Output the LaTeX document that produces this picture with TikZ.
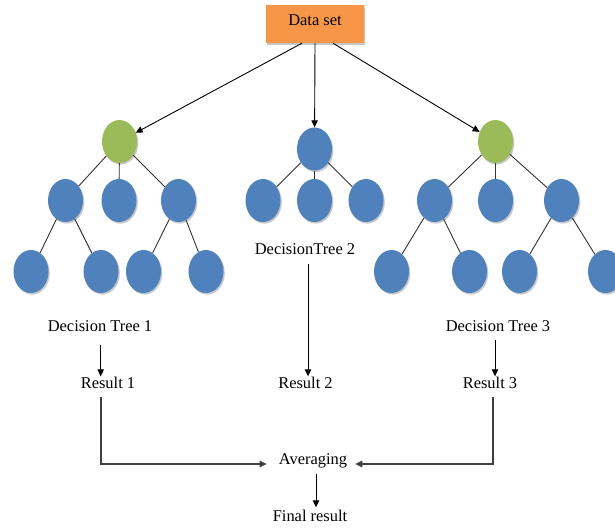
\documentclass[tikz,border=0pt]{standalone}
\usepackage{fontspec}
\setmainfont{Liberation Serif}
\usetikzlibrary{shapes.geometric,arrows.meta,shadows}
\definecolor{dsorange}{HTML}{F79646}
\definecolor{rootgreen}{HTML}{9BBB59}
\definecolor{nodeblue}{HTML}{4F81BD}
\begin{document}
\begin{tikzpicture}[x=1bp,y=-1bp,
  softshadow/.style={drop shadow={shadow xshift=1.3bp,shadow yshift=-1.6bp,fill=black,opacity=0.22}},
  tnode/.style={ellipse,minimum width=35bp,minimum height=43bp,inner sep=0pt,fill=nodeblue,softshadow},
  groot/.style={tnode,fill=rootgreen},
  databox/.style={rectangle,fill=dsorange,minimum width=98bp,minimum height=38bp,inner sep=0pt,
    text height=11bp,text depth=8bp,softshadow,font=\fontsize{16.5}{19}\selectfont},
  lbl/.style={inner sep=0pt,text height=12bp,text depth=4bp,font=\fontsize{16.5}{19}\selectfont},
  tedge/.style={draw=black!80,line width=0.9bp},
  arr/.style={draw=black,line width=0.9bp,-{Triangle[length=7bp,width=6.5bp]}},
  joinarr/.style={draw=black!75,line width=1.4bp,-{Triangle[length=7bp,width=6.5bp]}}]
\useasboundingbox (0,0) rectangle (615,529);

% data set box
\node[databox] (ds) at (315,24) {Data set};

% tree 1
\node[groot] (r1) at (119.5,141.5) {};
\node[tnode] (a1) at (65.5,200.5) {};
\node[tnode] (a2) at (119,200.5) {};
\node[tnode] (a3) at (178.5,200.5) {};
\node[tnode] (b1) at (31,271.5) {};
\node[tnode] (b2) at (101,271.5) {};
\node[tnode] (b3) at (143.5,271.5) {};
\node[tnode] (b4) at (206,271.5) {};

% tree 2
\node[tnode] (r2) at (314.5,149) {};
\node[tnode] (c1) at (263,200.5) {};
\node[tnode] (c2) at (314.5,200.5) {};
\node[tnode] (c3) at (366,200.5) {};

% tree 3
\node[groot] (r3) at (495.5,141.5) {};
\node[tnode] (d1) at (434.5,200.5) {};
\node[tnode] (d2) at (495.5,200.5) {};
\node[tnode] (d3) at (561.5,200.5) {};
\node[tnode] (e1) at (391.5,271.5) {};
\node[tnode] (e2) at (469.5,271.5) {};
\node[tnode] (e3) at (519.5,271.5) {};
\node[tnode] (e4) at (605.5,271.5) {};

% tree edges
\foreach \p/\c in {r1/a1,r1/a2,r1/a3,a1/b1,a1/b2,a3/b3,a3/b4,
                   r2/c1,r2/c2,r2/c3,
                   r3/d1,r3/d2,r3/d3,d1/e1,d1/e2,d3/e3,d3/e4}
  \draw[tedge] (\p) -- (\c);

% data set to trees
\draw[arr] ([xshift=-13bp]ds.south) -- (r1);
\draw[arr] (ds.south) -- (r2);
\draw[arr] ([xshift=18bp]ds.south) -- (r3);

% labels
\node[lbl] (dt1) at (100,327.5) {Decision Tree 1};
\node[lbl] (dt2) at (305,250.5) {DecisionTree 2};
\node[lbl] (dt3) at (498,327.5) {Decision Tree 3};
\node[lbl] (res1) at (108,384.5) {Result 1};
\node[lbl] (res2) at (305.5,384.5) {Result 2};
\node[lbl] (res3) at (490,384.5) {Result 3};
\node[lbl] (avg) at (313,460) {Averaging};
\node[lbl] (fin) at (310,517.5) {Final result};

% trees to results
\draw[arr,shorten <=9bp] ([xshift=0.7bp]dt1.south) -- ([xshift=0.7bp]dt1.south |- res1.north);
\draw[arr,shorten <=5bp] ([xshift=3bp]dt2.south) -- ([xshift=3bp]dt2.south |- res2.north);
\draw[arr,shorten <=4bp] ([xshift=-3bp]dt3.south) -- ([xshift=-3bp]dt3.south |- res3.north);

% results to averaging
\draw[joinarr,shorten <=4bp,shorten >=12bp] ([xshift=-7bp]res1.south) |- ([yshift=-4bp]avg.west);
\draw[joinarr,shorten <=4bp,shorten >=8bp] ([xshift=3bp]res3.south) |- ([yshift=-4bp]avg.east);

% averaging to final result
\draw[arr,shorten <=5.5bp,shorten >=2bp] ([xshift=3bp]avg.south) -- ([xshift=3bp]avg.south |- fin.north);
\end{tikzpicture}
\end{document}
